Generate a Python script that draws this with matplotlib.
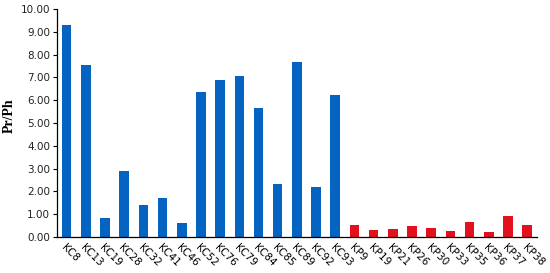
import numpy as np
import matplotlib.pyplot as plt

# %% data ---------------------------------------------------------------------
kc_names = ['KC8', 'KC13', 'KC19', 'KC28', 'KC32', 'KC41', 'KC46', 'KC52',
            'KC76', 'KC79', 'KC84', 'KC85', 'KC89', 'KC92', 'KC93']
kc_values = [9.30, 7.53, 0.85, 2.90, 1.40, 1.73, 0.62, 6.35,
             6.87, 7.07, 5.64, 2.31, 7.69, 2.18, 6.23]
kp_names = ['KP9', 'KP19', 'KP21', 'KP26', 'KP30', 'KP33', 'KP35', 'KP36',
            'KP37', 'KP38']
kp_values = [0.51, 0.31, 0.34, 0.47, 0.38, 0.25, 0.67, 0.22, 0.91, 0.51]

# %% plot ---------------------------------------------------------------------
fig = plt.figure(figsize=(5.5, 2.73), dpi=100)
ax = fig.add_axes([0.1036, 0.132, 0.8724, 0.835])

x_kc = np.arange(len(kc_names))
x_kp = np.arange(len(kp_names)) + len(kc_names)
ax.bar(x_kc, kc_values, width=0.5, color='#0563C1')
ax.bar(x_kp, kp_values, width=0.5, color='#E3101E')

ax.set_xlim(-0.5, len(kc_names) + len(kp_names) - 0.5)
ax.set_ylim(0, 10)
ax.set_yticks(np.arange(0, 10.01, 1))
ax.set_yticklabels([f'{v:.2f}' for v in np.arange(0, 10.01, 1)],
                   fontsize=7.5, color='#222222')
ax.set_xticks(np.concatenate([x_kc, x_kp]))
ax.set_xticklabels(kc_names + kp_names, rotation=-45, ha='left', va='top',
                   rotation_mode='anchor', fontsize=7.5)
ax.tick_params(axis='x', length=0, pad=4)
ax.tick_params(axis='y', length=3, width=0.8, pad=2)

for s in ['top', 'right']:
    ax.spines[s].set_visible(False)
for s in ['left', 'bottom']:
    ax.spines[s].set_linewidth(0.9)

ax.set_ylabel('Pr/Ph', fontfamily='Liberation Serif', fontweight='bold',
              fontsize=10)
ax.yaxis.set_label_coords(-0.085, 0.53)

fig.savefig('out.png', dpi=100)
